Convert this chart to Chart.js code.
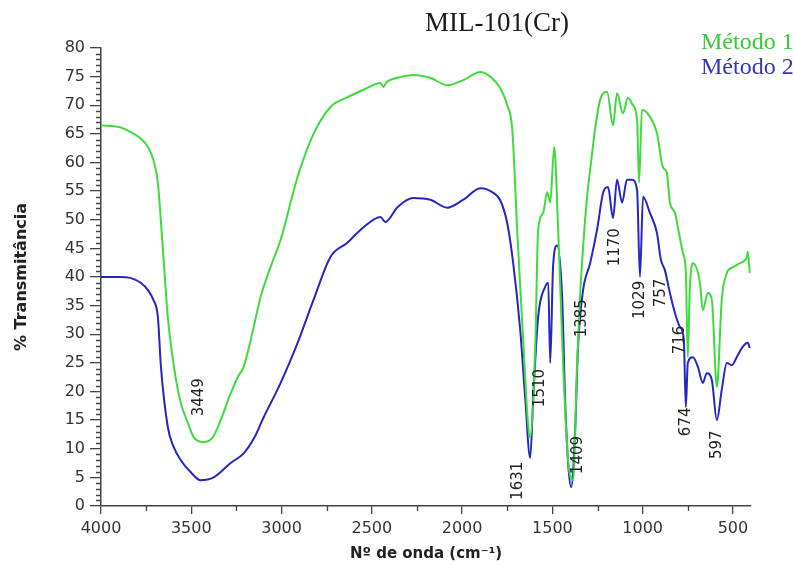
<!DOCTYPE html>
<html>
<head>
<meta charset="utf-8">
<script src="https://cdn.jsdelivr.net/npm/chart.js@4.4.1/dist/chart.umd.min.js"></script>
<style>
  body { margin: 0; background: #fff; }
  canvas { display: block; }
</style>
</head>
<body>
<canvas id="ftir_mil101" width="793" height="565"></canvas>
<script>
//***************************** donnees ************************************ */
// Metodo 1 (verde)
const ondaM1 = [4000, 3900, 3834, 3780, 3740, 3710, 3685, 3657, 3630, 3596, 3558, 3520, 3486, 3431, 3381, 3337, 3290, 3243, 3210, 3160, 3116, 3060, 3005,
  2911, 2823, 2729, 2635, 2540, 2452, 2436, 2420, 2358, 2270, 2176, 2082, 1993, 1899, 1844, 1789, 1750, 1722, 1695, 1662,
  1634, 1623, 1595, 1579, 1551, 1529, 1512, 1490, 1468, 1441, 1413, 1385, 1363, 1347, 1330, 1308, 1286, 1264,
  1236, 1197, 1164, 1142, 1109, 1081, 1054, 1031, 1020, 1004, 960, 921, 888, 866, 849, 821, 805, 777, 761, 750,
  739, 722, 683, 667, 639, 617, 589, 562, 534, 501, 462, 423, 418, 407];
const transM1 = [66.5, 66.2, 65.3, 64.2, 62.7, 60.5, 56.4, 44.7, 33, 24.3, 18, 14.6, 12, 11.2, 12, 15, 19, 22.5, 24.3, 30.5, 36.5, 41.8, 46.5,
  57.5, 65, 69.7, 71.4, 72.8, 73.9, 73.2, 74.0, 74.8, 75.3, 74.8, 73.5, 74.4, 75.8, 75, 73, 70, 65.7, 48.2, 29,
  14, 12, 27.8, 48.2, 51.2, 54.8, 53, 62.7, 48.2, 25, 8, 4.5, 25, 36.5, 45.2, 54, 60, 65.7,
  70.9, 72.3, 66.5, 72.1, 68.6, 71.3, 70, 67.4, 56.5, 69.2, 68, 65.2, 59.2, 58.2, 53, 51.2, 48.7, 44.2, 41, 26,
  38, 42.4, 39, 34.2, 37.2, 36, 20.8, 36, 40.7, 41.7, 42.4, 43.5, 44.4, 40.7];

// Metodo 2 (azul)
const ondaM2 = [4000, 3900, 3834, 3780, 3740, 3710, 3685, 3668, 3630, 3600, 3558, 3500, 3449, 3376, 3282, 3210, 3150, 3099, 3005, 2911, 2823, 2729,
  2635, 2546, 2452, 2425, 2358, 2270, 2176, 2082, 1993, 1899, 1827, 1789, 1750, 1717, 1678, 1651, 1623, 1606,
  1579, 1540, 1523, 1512, 1496, 1474, 1446, 1430, 1413, 1396, 1374, 1358, 1330, 1291, 1253, 1219, 1192, 1164,
  1142, 1114, 1087, 1059, 1031, 1015, 998, 960, 921, 899, 877, 849, 821, 794, 772, 761, 750, 722, 694, 667,
  645, 617, 589, 562, 534, 506, 479, 446, 418, 407];
const transM2 = [40, 40, 39.8, 39, 37.7, 36, 33, 24.3, 13.8, 10.5, 8, 5.8, 4.5, 5, 7.5, 9.2, 12, 15.5, 21.5, 28.5, 36, 43.5,
  46, 48.7, 50.5, 49.6, 52.2, 53.8, 53.5, 52.1, 53.5, 55.5, 54.7, 53.4, 49.4, 42.4, 30.7, 19, 8.4, 19,
  33, 38.3, 39, 25, 42, 45.5, 36.5, 19, 7.5, 3.3, 13.3, 27.8, 37.7, 42.4, 48.2, 54.7, 55.7, 50.3,
  57, 53, 57, 57, 55.2, 40, 54, 51.2, 47.7, 43, 41.2, 37.2, 33.7, 31.3, 29, 17.3, 25, 26, 24.3, 21.5,
  23.2, 22, 15, 20.3, 25, 24.6, 26, 27.8, 28.5, 27.6];

// picos anotados (texto, posicion en el grafico)
const picosTexto = ["3449", "1631", "1510", "1409", "1385", "1170", "1029", "757", "716", "674", "597"];
const picosOnda  = [3458, 1689, 1568, 1358, 1336, 1153, 1015, 899, 794, 761, 589];
const picosTrans = [19.0, 4.4, 20.6, 8.9, 32.8, 45.2, 36.0, 37.2, 29.0, 14.7, 10.7];

// ticks
const ticksX = [4000, 3500, 3000, 2500, 2000, 1500, 1000, 500];
const ticksY = [0, 5, 10, 15, 20, 25, 30, 35, 40, 45, 50, 55, 60, 65, 70, 75, 80];

const verde = "#3cdc3c";
const azul = "#2626c4";

function puntos(ondas, valores) {
	return ondas.map(function(o, i) { return {x: o, y: valores[i]}; });
}

//------------------------------------------------------------------------- plugin textos ---------------------------------------------------------------------- */
const decoracion = {
	id: 'decoracion',
	afterDraw: function(chart) {
		const ctx = chart.ctx;
		const sx = chart.scales.x;
		const sy = chart.scales.y;
		const area = chart.chartArea;

		ctx.save();
		// ticks menores
		ctx.strokeStyle = "#444";
		ctx.lineWidth = 1.3;
		ctx.beginPath();
		for (let v = 1; v < 80; v++) {
			if (v % 5 == 0) continue;
			let py = Math.round(sy.getPixelForValue(v)) + 0.5;
			ctx.moveTo(area.left - 5, py);
			ctx.lineTo(area.left, py);
		}
		for (let w = 3750; w >= 500; w -= 500) {
			let px = Math.round(sx.getPixelForValue(w)) + 0.5;
			ctx.moveTo(px, area.bottom);
			ctx.lineTo(px, area.bottom + 5);
		}
		ctx.stroke();

		// etiquetas de picos
		ctx.fillStyle = "#222";
		ctx.font = "15px 'DejaVu Sans'";
		ctx.textAlign = "center";
		ctx.textBaseline = "middle";
		for (let i = 0; i < picosTexto.length; i++) {
			let px = sx.getPixelForValue(picosOnda[i]);
			let py = sy.getPixelForValue(picosTrans[i]);
			ctx.save();
			ctx.translate(px, py);
			ctx.rotate(-Math.PI / 2);
			ctx.fillText(picosTexto[i], 0, 0);
			ctx.restore();
		}

		// titulo y leyenda
		ctx.textAlign = "center";
		ctx.textBaseline = "alphabetic";
		ctx.fillStyle = "#1a1a1a";
		ctx.font = "27px 'Liberation Serif'";
		ctx.fillText("MIL-101(Cr)", 497, 31);

		ctx.textAlign = "left";
		ctx.font = "24px 'Liberation Serif'";
		ctx.fillStyle = "#35cc35";
		ctx.fillText("Método 1", 701, 49);
		ctx.fillStyle = "#3535b8";
		ctx.fillText("Método 2", 701, 74);
		ctx.restore();
	}
};

//------------------------------------------------------------------------- line ---------------------------------------------------------------------------------- */
new Chart(document.getElementById("ftir_mil101"), {
	type: 'line',
	data: {
		datasets: [
			{
				label: 'Método 1',
				data: puntos(ondaM1, transM1),
				borderColor: verde,
				borderWidth: 2,
				pointRadius: 0,
				cubicInterpolationMode: 'monotone',
				fill: false
			},
			{
				label: 'Método 2',
				data: puntos(ondaM2, transM2),
				borderColor: azul,
				borderWidth: 2,
				pointRadius: 0,
				cubicInterpolationMode: 'monotone',
				fill: false
			}
		]
	},
	options: {
		responsive: false,
		animation: false,
		layout: { padding: { left: 0, right: 42, top: 48, bottom: 0 } },
		plugins: {
			legend: { display: false },
			tooltip: { enabled: false }
		},
		scales: {
			x: {
				type: 'linear',
				reverse: true,
				min: 400,
				max: 4000,
				afterBuildTicks: function(scale) {
					scale.ticks = ticksX.map(function(v) { return {value: v}; });
				},
				afterFit: function(scale) { scale.height = 59; },
				grid: { drawOnChartArea: false, tickLength: 8, color: '#444', lineWidth: 1.3 },
				border: { color: '#444', width: 1.5 },
				ticks: {
					color: '#333',
					padding: 5,
					maxRotation: 0,
					font: { family: 'DejaVu Sans', size: 16 },
					callback: function(value) { return String(value); }
				},
				title: {
					display: true,
					text: 'Nº de onda (cm⁻¹)',
					color: '#222',
					padding: { top: 0, bottom: 2 },
					font: { family: 'DejaVu Sans', size: 15, weight: 'bold' }
				}
			},
			y: {
				min: 0,
				max: 80,
				afterBuildTicks: function(scale) {
					scale.ticks = ticksY.map(function(v) { return {value: v}; });
				},
				afterFit: function(scale) { scale.width = 101; },
				grid: { drawOnChartArea: false, tickLength: 11, color: '#444', lineWidth: 1.3 },
				border: { color: '#444', width: 1.5 },
				ticks: {
					color: '#333',
					padding: 5,
					font: { family: 'DejaVu Sans', size: 16 },
					callback: function(value) { return String(value); }
				},
				title: {
					display: true,
					text: '% Transmitância',
					color: '#222',
					padding: { top: 12, bottom: 0 },
					font: { family: 'DejaVu Sans', size: 16, weight: 'bold' }
				}
			}
		}
	},
	plugins: [decoracion]
});
</script>
</body>
</html>
